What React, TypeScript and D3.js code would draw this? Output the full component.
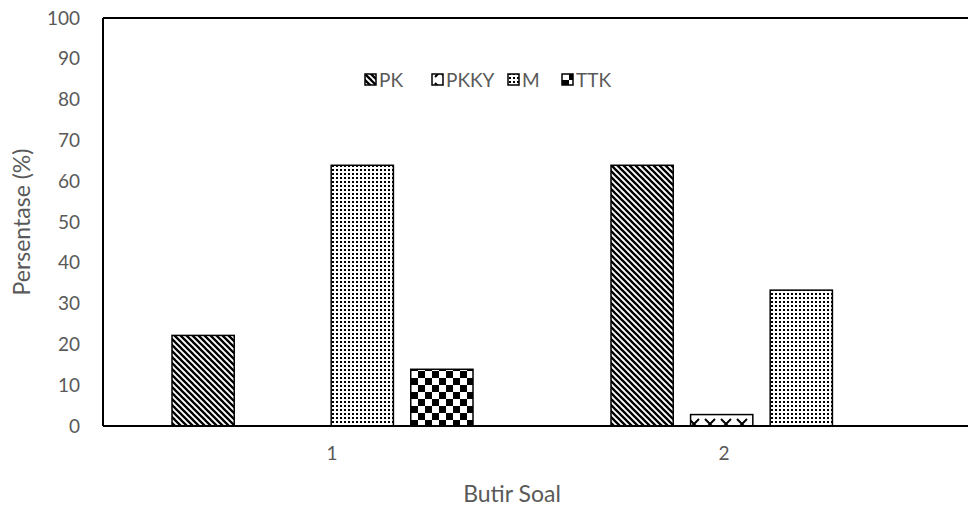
import React from "react";
import * as d3 from "d3";

const categories = ["1", "2"];
const seriesNames = ["PK", "PKKY", "M", "TTK"];
const pkValues = [22.2, 63.9];
const pkkyValues = [0, 2.8];
const mValues = [63.9, 33.3];
const ttkValues = [13.9, 0];
const yTicks = [0, 10, 20, 30, 40, 50, 60, 70, 80, 90, 100];

const seriesValues: Record<string, number[]> = {
  PK: pkValues,
  PKKY: pkkyValues,
  M: mValues,
  TTK: ttkValues,
};

const W = 968;
const H = 506;
const margin = { left: 103, top: 18, right: -13, bottom: 80 };
const textColor = "#595959";
const font = "Lato, 'Open Sans', sans-serif";

export default function App() {
  const x0 = d3
    .scaleBand<string>()
    .domain(categories)
    .range([margin.left, W - margin.right])
    .paddingInner(0)
    .paddingOuter(0);
  const x1 = d3
    .scaleBand<string>()
    .domain(seriesNames)
    .range([69, x0.bandwidth() - 69])
    .paddingInner(0.218)
    .paddingOuter(0);
  // category labels sit on their own band across the axis
  const xLabel = d3.scaleBand<string>().domain(categories).range([136, 920]);
  const y = d3.scaleLinear().domain([0, 100]).range([H - margin.bottom, margin.top]);

  const fillFor = (s: string) => `url(#pat-${s})`;

  return (
    <svg width={W} height={H} style={{ display: "block", position: "absolute", left: 0, top: 0 }}>
      <defs>
        <pattern id="pat-PK" patternUnits="userSpaceOnUse" width="6" height="6">
          <rect width="6" height="6" fill="#fff" />
          <path d="M-1.5,-1.5 L7.5,7.5 M-1.5,4.5 L1.5,7.5 M4.5,-1.5 L7.5,1.5" stroke="#000" strokeWidth="2.3" />
        </pattern>
        <pattern id="pat-PKKY" patternUnits="userSpaceOnUse" width="16" height="16">
          <rect width="16" height="16" fill="#fff" />
          <path d="M3,3 L13,13 M13,3 L3,13" stroke="#000" strokeWidth="2" />
        </pattern>
        <pattern id="pat-M" patternUnits="userSpaceOnUse" width="4" height="4">
          <rect width="4" height="4" fill="#fff" />
          <rect x="1" y="1" width="2" height="2" fill="#000" />
        </pattern>
        <pattern id="pat-TTK" patternUnits="userSpaceOnUse" width="14" height="14">
          <rect width="14" height="14" fill="#fff" />
          <rect x="0" y="0" width="7" height="7" fill="#000" />
          <rect x="7" y="7" width="7" height="7" fill="#000" />
        </pattern>
      </defs>

      {/* bars */}
      {categories.map((c, ci) => (
        <g key={c} transform={`translate(${x0(c)},0)`}>
          {seriesNames.map((s) => {
            const v = seriesValues[s][ci];
            if (v <= 0) return null;
            return (
              <rect
                key={s}
                x={x1(s)}
                y={y(v)}
                width={x1.bandwidth()}
                height={y(0) - y(v)}
                fill={fillFor(s)}
                stroke="#000"
                strokeWidth={1.5}
              />
            );
          })}
        </g>
      ))}

      {/* frame */}
      <line x1={margin.left} x2={W} y1={y(100)} y2={y(100)} stroke="#000" strokeWidth={2} />
      <line x1={margin.left} x2={margin.left} y1={y(100)} y2={y(0)} stroke="#000" strokeWidth={2} />
      <line x1={margin.left} x2={W} y1={y(0)} y2={y(0)} stroke="#000" strokeWidth={2} />

      {/* y tick labels */}
      {yTicks.map((t) => (
        <text
          key={t}
          x={80}
          y={y(t)}
          dy="0.35em"
          textAnchor="end"
          fontFamily={font}
          fontSize={19}
          fill={textColor}
        >
          {t}
        </text>
      ))}

      {/* x tick labels */}
      {categories.map((c) => (
        <text
          key={c}
          x={(xLabel(c) as number) + xLabel.bandwidth() / 2}
          y={453}
          dy="0.35em"
          textAnchor="middle"
          fontFamily={font}
          fontSize={19}
          fill={textColor}
        >
          {c}
        </text>
      ))}

      {/* axis titles */}
      <text
        x={512}
        y={494}
        dy="0.35em"
        textAnchor="middle"
        fontFamily={font}
        fontSize={23}
        fill={textColor}
      >
        Butir Soal
      </text>
      <text
        transform={`translate(22,${(y(0) + y(100)) / 2}) rotate(-90)`}
        dy="0.35em"
        textAnchor="middle"
        fontFamily={font}
        fontSize={23}
        fill={textColor}
      >
        Persentase (%)
      </text>

      {/* legend */}
      {seriesNames.map((s, i) => {
        const lx = [365, 432, 508, 562][i];
        return (
          <g key={s} transform={`translate(${lx},${80})`}>
            <rect x={0} y={-6} width={11} height={11} fill={fillFor(s)} stroke="#000" strokeWidth={1.5} />
            <text x={14} y={0} dy="0.35em" fontFamily={font} fontSize={19} fill={textColor}>
              {s}
            </text>
          </g>
        );
      })}
    </svg>
  );
}
